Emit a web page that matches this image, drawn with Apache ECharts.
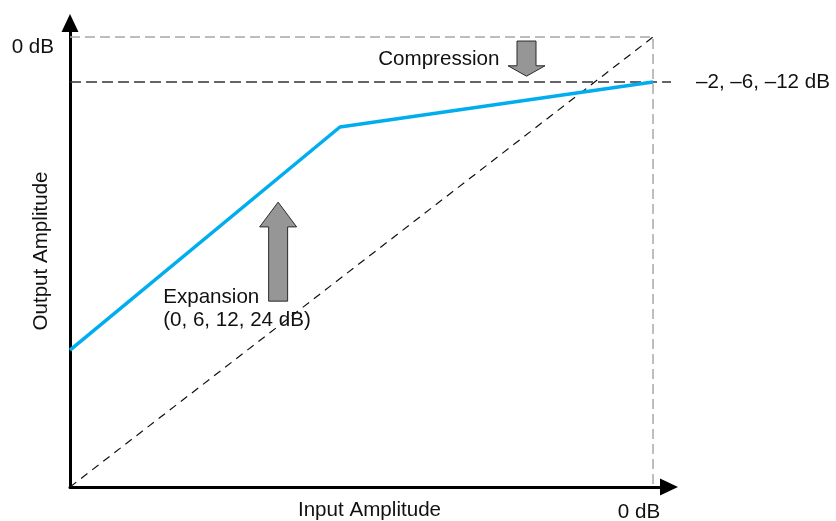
<!DOCTYPE html>
<html>
<head>
<meta charset="utf-8">
<script src="https://cdn.jsdelivr.net/npm/echarts@6/dist/echarts.min.js"></script>
<style>
  html, body { margin: 0; padding: 0; background: #fff; }
  #chart { width: 836px; height: 521px; }
</style>
</head>
<body>
<div id="chart"></div>
<script>
// input/output in normalized amplitude, 0 dB = 1
var unity = [[0, 0], [1, 1]];
var frameTop = [[0, 1], [1, 1], [1, 0]];
var compLevel = [[0, 0.9], [1.04, 0.9]];
var transfer = [[0, 0.304], [0.463, 0.8], [1, 0.9]];
// [x, tail y, head base y, tip y]
var arrows = [
  [0.783, 0.991, 0.936, 0.913],
  [0.357, 0.413, 0.578, 0.633]
];
var arrowText = ['Compression', 'Expansion\n(0, 6, 12, 24 dB)'];
var compText = '\u20132, \u20136, \u201312 dB';

var font = "'Liberation Sans', Arial, sans-serif";
var fs = 20.6;
var chart = echarts.init(document.getElementById('chart'));

chart.setOption({
  animation: false,
  textStyle: { fontFamily: font },
  grid: { left: 70, right: 167, top: 23, bottom: 34, outerBoundsMode: 'none', containLabel: false },
  xAxis: {
    type: 'value', min: 0, max: 1.0274, interval: 1,
    name: 'Input Amplitude', nameLocation: 'middle', nameGap: 13, nameMoveOverlap: false,
    nameTextStyle: { fontSize: fs, color: '#111', fontFamily: font },
    axisLine: { lineStyle: { color: '#000', width: 3 }, symbol: ['none', 'triangle'], symbolSize: [17, 18] },
    axisTick: { show: false },
    splitLine: { show: false },
    axisLabel: {
      fontSize: fs, color: '#111', margin: 15, padding: [0, 28, 0, 0],
      formatter: function (v) { return v === 1 ? '0 dB' : ''; }
    }
  },
  yAxis: {
    type: 'value', min: 0, max: 1.0311, interval: 1,
    name: 'Output Amplitude', nameLocation: 'middle', nameGap: 18, nameMoveOverlap: false,
    nameTextStyle: { fontSize: fs, color: '#111', fontFamily: font, padding: [0, 0, 0, 8] },
    axisLine: { lineStyle: { color: '#000', width: 3 }, symbol: ['none', 'triangle'], symbolSize: [17, 18] },
    axisTick: { show: false },
    splitLine: { show: false },
    axisLabel: {
      fontSize: fs, color: '#111', margin: 16, verticalAlign: 'top',
      formatter: function (v) { return v === 1 ? '0 dB' : ''; }
    }
  },
  series: [
    {
      type: 'line', data: frameTop, symbol: 'none', silent: true,
      lineStyle: { color: '#a8a8a8', width: 1.5, type: [10, 5] }
    },
    {
      type: 'line', data: unity, symbol: 'none', silent: true,
      lineStyle: { color: '#111', width: 1.2, type: [8, 6] }
    },
    {
      type: 'line', data: compLevel, symbol: 'none', silent: true,
      lineStyle: { color: '#333', width: 1.5, type: [11, 5] },
      endLabel: {
        show: true, formatter: compText, fontSize: fs, color: '#111',
        distance: 25, fontFamily: font
      }
    },
    {
      type: 'line', data: transfer, symbol: 'none', silent: true, z: 5,
      lineStyle: { color: '#00aeef', width: 3.5 }
    },
    {
      type: 'custom', data: arrows, silent: true, z: 6,
      renderItem: function (params, api) {
        var tail = api.coord([api.value(0), api.value(1)]);
        var base = api.coord([api.value(0), api.value(2)]);
        var tip = api.coord([api.value(0), api.value(3)]);
        var x = tail[0], sw = 9.5, hw = 18.5;
        var pts = [
          [x - sw, tail[1]], [x + sw, tail[1]], [x + sw, base[1]], [x + hw, base[1]],
          [x, tip[1]], [x - hw, base[1]], [x - sw, base[1]]
        ];
        var label;
        if (params.dataIndex === 0) {
          label = { type: 'text', style: { x: x - 27, y: tail[1] + 18, text: arrowText[0],
            font: fs + 'px ' + font, fill: '#111', align: 'right', verticalAlign: 'middle' } };
        } else {
          label = { type: 'text', style: { x: x - 115, y: tail[1] + 8, text: arrowText[1],
            font: fs + 'px ' + font, lineHeight: 23, fill: '#111', align: 'left', verticalAlign: 'middle' } };
        }
        return {
          type: 'group',
          children: [
            { type: 'polygon', shape: { points: pts },
              style: { fill: '#969696', stroke: '#2a2a2a', lineWidth: 1 } },
            label
          ]
        };
      }
    }
  ]
});
</script>
</body>
</html>
